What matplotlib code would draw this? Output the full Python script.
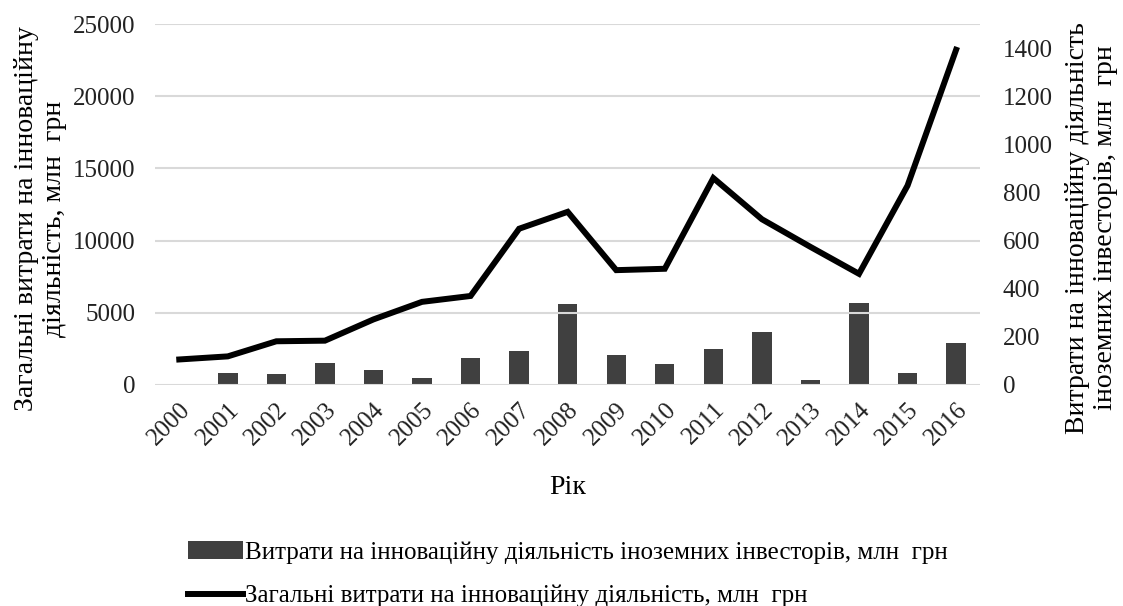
import matplotlib.pyplot as plt
import numpy as np

plt.rcParams['font.family'] = ['Liberation Serif', 'DejaVu Serif']

years = ['2000', '2001', '2002', '2003', '2004', '2005', '2006', '2007', '2008',
         '2009', '2010', '2011', '2012', '2013', '2014', '2015', '2016']
total = [1757.1, 1971.4, 3018.3, 3059.8, 4534.6, 5751.6, 6160.0, 10821.0, 11994.2,
         7949.9, 8045.5, 14333.9, 11480.6, 9562.6, 7695.9, 13813.7, 23229.5]
foreign = [0, 50, 44, 90, 62, 27, 112, 141, 337,
           125, 85, 148, 222, 22, 342, 51, 176]

lbl_bar = 'Витрати на інноваційну діяльність іноземних інвесторів, млн  грн'
lbl_line = 'Загальні витрати на інноваційну діяльність, млн  грн'

fig = plt.figure(figsize=(11.23, 6.06), dpi=100)
ax = fig.add_axes([0.138, 0.365, 0.735, 0.595])
ax2 = ax.twinx()

x = np.arange(len(years))
bars = ax2.bar(x, foreign, width=0.4, color='#404040', label=lbl_bar)
line, = ax.plot(x, total, color='black', lw=4.3, solid_joinstyle='miter', label=lbl_line)

ax.set_zorder(ax2.get_zorder() + 1)
ax.patch.set_visible(False)

ax.set_xlim(-0.5, len(years) - 0.5)
ax.set_ylim(0, 25000)
ax.set_yticks(np.arange(0, 25001, 5000))
ax2.set_ylim(0, 1503)
ax2.set_yticks(np.arange(0, 1401, 200))

ax.grid(axis='y', color='#d9d9d9', lw=1.5)
ax.set_axisbelow(True)
for a in (ax, ax2):
    for s in a.spines.values():
        s.set_visible(False)
    a.tick_params(length=0, labelsize=18, colors='#222222')

ax.set_xticks(x)
ax.set_xticklabels(years, rotation=45, ha='right', rotation_mode='anchor')
ax.tick_params(axis='x', pad=10)
ax.tick_params(axis='y', pad=14)
ax2.tick_params(axis='y', pad=16)

ax.set_xlabel('Рік', fontsize=20, labelpad=18)
ax.set_ylabel('Загальні витрати на інноваційну\nдіяльність, млн  грн', fontsize=20)
ax2.set_ylabel('Витрати на інноваційну діяльність\nіноземних інвесторів, млн  грн', fontsize=20)
ax.yaxis.set_label_coords(-0.106, 0.46)
ax2.yaxis.set_label_coords(1.102, 0.435)

fig.legend([bars, line], [lbl_bar, lbl_line], loc='upper left',
           bbox_to_anchor=(0.167, 0.107), frameon=False, fontsize=18,
           borderpad=0, borderaxespad=0,
           handlelength=2.2, handletextpad=0.1, labelspacing=0.85)

fig.savefig('out.png', dpi=100)
